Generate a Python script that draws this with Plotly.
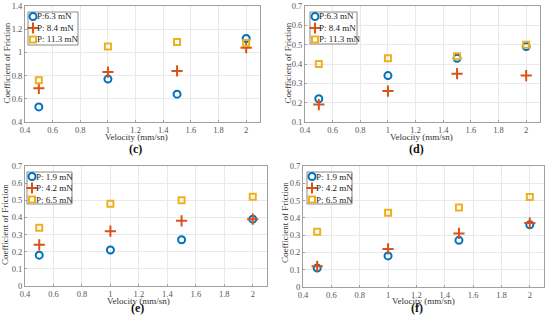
import plotly.graph_objects as go

velocity = [0.5, 1.0, 1.5, 2.0]

# Panel (c)
c_names = ["P:6.3 mN", "P: 8.4 mN", "P: 11.3 mN"]
c_p1 = [0.53, 0.77, 0.64, 1.12]
c_p2 = [0.69, 0.83, 0.84, 1.04]
c_p3 = [0.76, 1.05, 1.09, 1.08]

# Panel (d)
d_names = ["P:6.3 mN", "P: 8.4 mN", "P: 11.3 mN"]
d_p1 = [0.22, 0.34, 0.43, 0.49]
d_p2 = [0.19, 0.26, 0.35, 0.34]
d_p3 = [0.40, 0.43, 0.44, 0.50]

# Panel (e)
e_names = ["P: 1.9 mN", "P: 4.2 mN", "P: 6.5 mN"]
e_p1 = [0.18, 0.21, 0.27, 0.39]
e_p2 = [0.24, 0.32, 0.38, 0.39]
e_p3 = [0.34, 0.48, 0.50, 0.52]

# Panel (f)
f_names = ["P: 1.9 mN", "P: 4.2 mN", "P: 6.5 mN"]
f_p1 = [0.11, 0.18, 0.27, 0.36]
f_p2 = [0.12, 0.22, 0.31, 0.37]
f_p3 = [0.32, 0.43, 0.46, 0.52]

panel_labels = ["(c)", "(d)", "(e)", "(f)"]
x_title = "Velocity (mm/sn)"
y_title = "Coefficient of Friction"

BLUE = "#0072BD"
ORANGE = "#D95319"
YELLOW = "#EDB120"
FONT = "Liberation Serif"

W, H = 550, 320


def px_x(p):
    return p / W


def px_y(p):
    return 1 - p / H


# axis boxes in pixels: (left, right, top, bottom)
boxes = [(25, 260, 6, 122), (305, 540, 6, 122), (25, 267, 166, 286), (303, 544, 166, 287)]
yranges = [[0.4, 1.4], [0.1, 0.7], [0, 0.7], [0, 0.7]]
ydticks = [0.2, 0.1, 0.1, 0.1]
# legend boxes in pixels: (left, right, top, bottom, marker_x, row_ys)
leg_boxes = [
    (28, 78, 12, 45, 33, [16.5, 28, 39.5]),
    (310, 357, 12, 44, 315, [16.5, 28, 39.5]),
    (27, 72, 172, 204, 32, [176.5, 188, 199.5]),
    (307, 352, 172, 204, 312, [176.5, 188, 199.5]),
]
ytitle_pos = [(6.5, 63), (287.5, 63), (5, 225), (285, 223)]
xtitle_pos = [(136, 137), (422, 137), (138, 301), (423, 301)]
label_pos = [(135, 148.5), (416, 148.5), (137, 307.5), (417, 307.5)]

panels = [
    (c_names, c_p1, c_p2, c_p3),
    (d_names, d_p1, d_p2, d_p3),
    (e_names, e_p1, e_p2, e_p3),
    (f_names, f_p1, f_p2, f_p3),
]

marker_styles = [
    (BLUE, "circle-open", 7),
    (ORANGE, "cross-thin-open", 8),
    (YELLOW, "square-open", 6),
]

fig = go.Figure()
layout = dict(
    width=W, height=H,
    margin=dict(l=0, r=0, t=0, b=0),
    paper_bgcolor="white", plot_bgcolor="rgba(0,0,0,0)",
    font=dict(family=FONT, size=9, color="#333333"),
    showlegend=False,
)

annotations = []
for i, (names, p1, p2, p3) in enumerate(panels):
    n = "" if i == 0 else str(i + 1)
    xa, ya = "x" + n, "y" + n
    for vals, (col, sym, sz), name in zip([p1, p2, p3], marker_styles, names):
        fig.add_trace(go.Scatter(
            x=velocity, y=vals, mode="markers", name=name,
            marker=dict(symbol=sym, size=sz, color=col, line=dict(color=col, width=2)),
            xaxis=xa, yaxis=ya,
        ))
    l, r, t, b = boxes[i]
    layout["xaxis" + n] = dict(
        domain=[px_x(l), px_x(r)], anchor=ya, range=[0.4, 2.1], dtick=0.2, tick0=0.4,
        showgrid=True, gridcolor="#e9e9e9", zeroline=False, automargin=False,
        showline=True, linecolor="#a0a0a0", linewidth=1, mirror=True,
        ticks="inside", ticklen=2, tickcolor="#a0a0a0",
        tickfont=dict(size=8.5, color="#555555"),
    )
    layout["yaxis" + n] = dict(
        domain=[px_y(b), px_y(t)], anchor=xa, range=yranges[i], dtick=ydticks[i],
        showgrid=True, gridcolor="#e9e9e9", zeroline=False, automargin=False,
        showline=True, linecolor="#a0a0a0", linewidth=1, mirror=True,
        ticks="inside", ticklen=2, tickcolor="#a0a0a0",
        tickfont=dict(size=8.5, color="#555555"),
    )
    tx, ty = ytitle_pos[i]
    annotations.append(dict(
        text=y_title, x=px_x(tx), y=px_y(ty), xref="paper", yref="paper", textangle=-90,
        showarrow=False, xanchor="center", yanchor="middle", borderpad=0,
        font=dict(size=9, family=FONT, color="#333333"),
    ))
    tx, ty = xtitle_pos[i]
    annotations.append(dict(
        text=x_title, x=px_x(tx), y=px_y(ty), xref="paper", yref="paper",
        showarrow=False, xanchor="center", yanchor="middle", borderpad=0,
        font=dict(size=9, family=FONT, color="#333333"),
    ))
    tx, ty = label_pos[i]
    annotations.append(dict(
        text="<b>" + panel_labels[i] + "</b>", x=px_x(tx), y=px_y(ty),
        xref="paper", yref="paper", showarrow=False, xanchor="center", yanchor="middle",
        borderpad=0, font=dict(size=12, family=FONT, color="#111111"),
    ))

# Overlay pixel-space axes for the in-plot legends
layout["xaxis5"] = dict(domain=[0, 1], range=[0, W], visible=False, anchor="y5", fixedrange=True)
layout["yaxis5"] = dict(domain=[0, 1], range=[H, 0], visible=False, anchor="x5", fixedrange=True)

for i, (names, p1, p2, p3) in enumerate(panels):
    l, r, t, b, mx, rows = leg_boxes[i]
    fig.add_trace(go.Scatter(
        x=[l, r, r, l, l], y=[t, t, b, b, t], mode="lines", fill="toself",
        fillcolor="white", line=dict(color="#8a8a8a", width=1),
        xaxis="x5", yaxis="y5", hoverinfo="skip",
    ))
    for (col, sym, sz), name, ry in zip(marker_styles, names, rows):
        fig.add_trace(go.Scatter(
            x=[mx], y=[ry], mode="markers",
            marker=dict(symbol=sym, size=sz, color=col, line=dict(color=col, width=2)),
            xaxis="x5", yaxis="y5", hoverinfo="skip",
        ))
        annotations.append(dict(
            text=name, x=px_x(mx + 3), y=px_y(ry), xref="paper", yref="paper",
            showarrow=False, xanchor="left", yanchor="middle", borderpad=0,
            font=dict(size=9, family=FONT, color="#222222"),
        ))

layout["annotations"] = annotations
fig.update_layout(**layout)
fig.write_html(
    "out.html",
    config={"displayModeBar": False},
    post_script="document.body.style.margin='0px';document.body.style.overflow='hidden';",
)
